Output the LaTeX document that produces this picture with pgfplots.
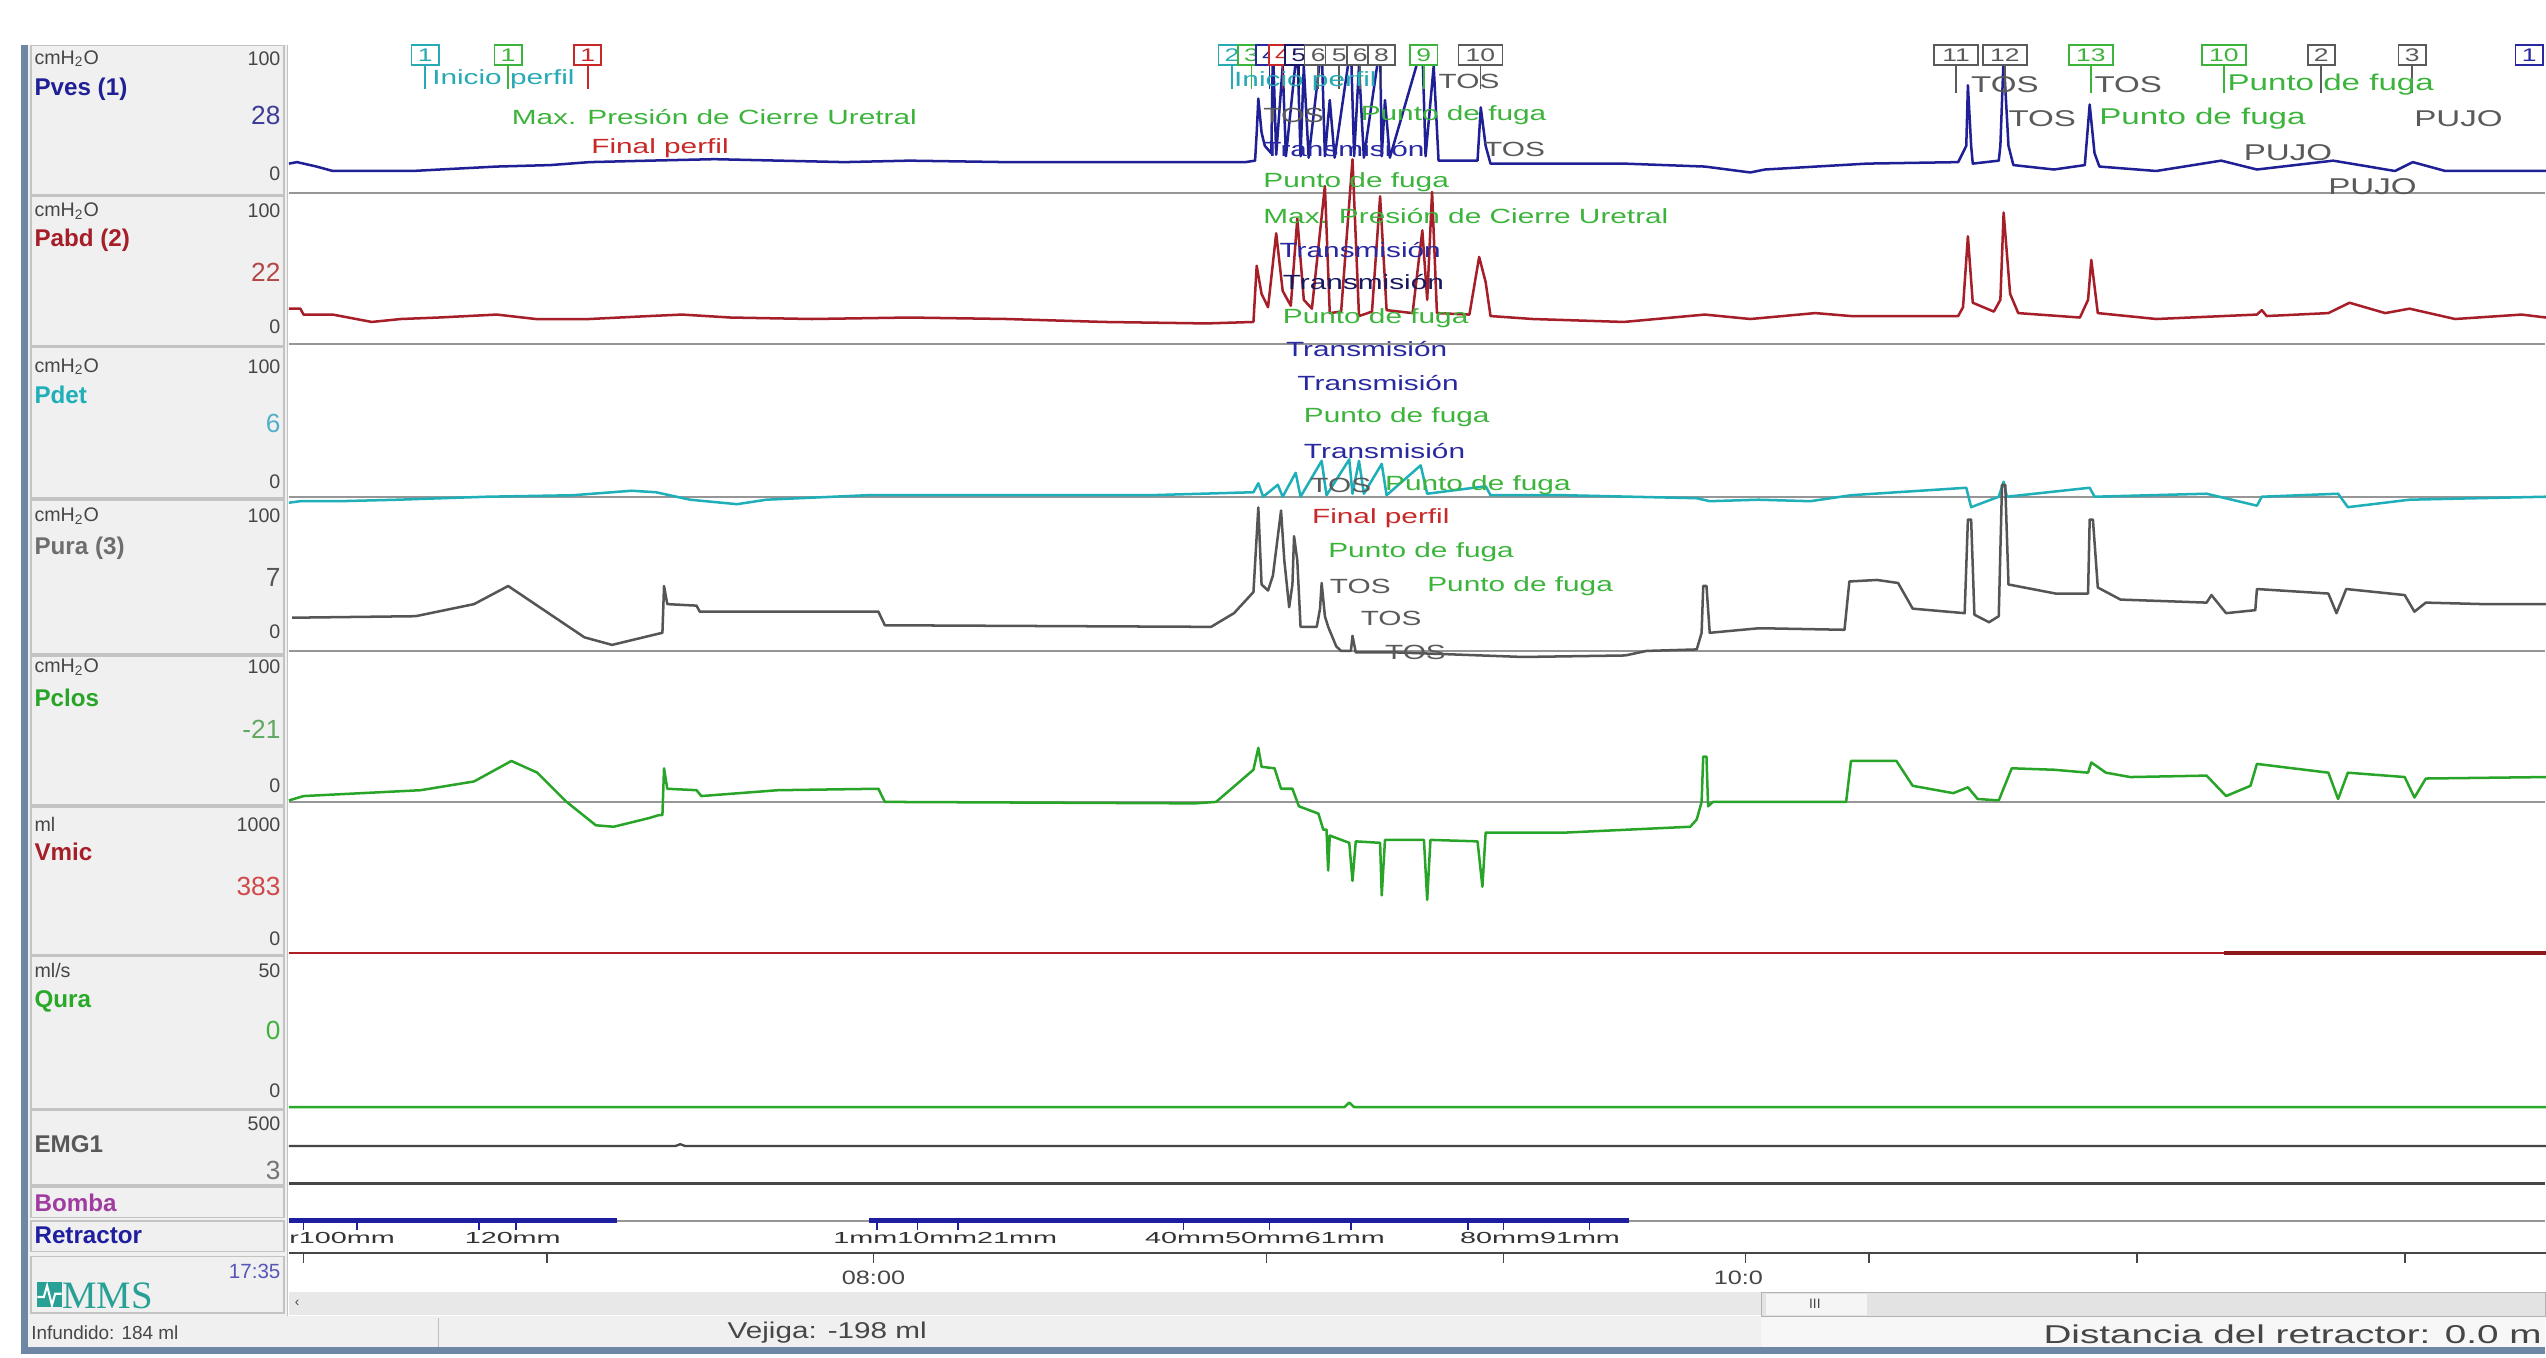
\documentclass[border=0pt]{standalone}
\usepackage{fontspec}
\setmainfont{Liberation Sans}
\newfontfamily\evf[FakeStretch=1.45]{Liberation Sans}
\newfontfamily\retf[FakeStretch=1.8]{Liberation Sans}
\newfontfamily\widef[FakeStretch=1.3]{Liberation Sans}
\newfontfamily\widerf[FakeStretch=1.5]{Liberation Sans}
\newfontfamily\mmsf{Liberation Serif}
\usepackage{pgfplots}
\pgfplotsset{compat=1.18}

\definecolor{cves}{RGB}{32,32,150}
\definecolor{cabd}{RGB}{165,30,40}
\definecolor{cdet}{RGB}{30,175,185}
\definecolor{cura}{RGB}{85,85,85}
\definecolor{cclos}{RGB}{40,165,40}
\definecolor{cvmic}{RGB}{175,30,35}
\definecolor{cqura}{RGB}{40,170,40}
\definecolor{cemg}{RGB}{70,70,70}
\definecolor{cbomba}{RGB}{160,60,160}
\definecolor{cret}{RGB}{30,30,160}
\definecolor{panelbg}{RGB}{240,240,240}
\definecolor{panelln}{RGB}{195,195,195}
\definecolor{zeroln}{RGB}{150,150,150}
\definecolor{txtg}{RGB}{70,70,70}
\definecolor{mms}{RGB}{40,160,150}
\definecolor{frame}{RGB}{110,135,165}
\definecolor{evgreen}{RGB}{60,180,60}
\definecolor{evteal}{RGB}{40,170,180}
\definecolor{evred}{RGB}{200,40,40}
\definecolor{evnavy}{RGB}{40,40,160}
\definecolor{evgray}{RGB}{90,90,90}
\definecolor{vves}{RGB}{60,60,150}
\definecolor{vabd}{RGB}{180,70,70}
\definecolor{vdet}{RGB}{80,175,200}
\definecolor{vclos}{RGB}{96,168,96}
\definecolor{vvmic}{RGB}{208,72,72}

\pgfplotsset{tr/.style={scale only axis, hide axis, width=34.75cm, xmin=178, xmax=1568,
  clip=false, anchor=south west, ymin=0}}

\tikzset{
  sm/.style={font=\fontsize{8.6}{9}\selectfont, text=txtg, inner sep=0},
  nm/.style={font=\bfseries\fontsize{10.6}{11}\selectfont, inner sep=0},
  vl/.style={font=\fontsize{11.5}{12}\selectfont, inner sep=0},
  mkbox/.style={draw=#1, text=#1, fill=white, line width=0.7pt, inner sep=0pt,
     minimum height=0.31cm, minimum width=0.42cm, font=\evf\fontsize{8}{8}\selectfont},
  mkbox2/.style={mkbox=#1, minimum width=0.68cm},
}
\newcommand\ev[4]{\node[anchor=west, text=#3, font=\evf\fontsize{9}{9}\selectfont, inner sep=0] at (#1,#2) {#4};}
\newcommand\evr[4]{\node[anchor=west, text=#3, font=\evf\fontsize{10}{10}\selectfont, inner sep=0] at (#1,#2) {#4};}
\newcommand\mk[4]{\draw[#2, line width=0.8pt] (#1,40) -- (#1,#4); \node[mkbox=#2] at (#1,34) {#3};}
\newcommand\mkk[4]{\draw[#2, line width=0.8pt] (#1,40) -- (#1,#4); \node[mkbox2=#2] at (#1,34) {#3};}

\begin{document}
\begin{tikzpicture}
\path[use as bounding box, fill=white] (0,0) rectangle (39.2,20.9);
\begin{scope}[x=0.025cm, y=-0.025cm, yshift=20.9cm]
  % frame and left column
  \fill[frame] (13,28) rectangle (17,834);
  \fill[panelbg] (17,28) rectangle (177,811);
  \foreach \t/\b in {28/120,121/213,214/307,308/403,404/496,497/588,589/683,684/730,731/750,752/771,774/809}
    \draw[panelln, line width=0.8pt, fill=panelbg] (19,\t) rectangle (175,\b);
  \draw[panelln, line width=0.6pt] (177,28) -- (177,811);
  % zero lines
  \foreach \y in {119,212,306,401,494}
    \draw[zeroln, line width=1pt] (178,\y) -- (1568,\y);
  \draw[cemg, line width=1pt] (178,729) -- (1568,729);
  \draw[zeroln, line width=0.8pt] (178,752) -- (1568,752);
  % scrollbars and status bar
  \fill[black!9] (178,796) rectangle (1085,810);
  \fill[black!6] (17,811) rectangle (1085,830);
  \fill[black!3] (1085,811) rectangle (1568,830);
  \fill[black!11] (1085,796) rectangle (1568,811);
  \draw[black!30, line width=0.5pt] (1085,796) rectangle (1568,811);
  \fill[black!4] (1088,797) rectangle (1150,810);
  \node[font=\fontsize{6}{6}\selectfont, text=txtg, inner sep=0] at (1118,803) {III};
  \node[font=\fontsize{6}{6}\selectfont, text=txtg, inner sep=0] at (183,803) {‹};
  \draw[black!25, line width=0.5pt] (270,812) -- (270,830);
  \fill[frame] (13,830) rectangle (1568,834);
  \node[anchor=west, font=\fontsize{8.3}{9}\selectfont, text=txtg, inner sep=0] at (19,821) {Infundido: 184 ml};
  \node[anchor=west, font=\widef\fontsize{10}{10}\selectfont, text=txtg, inner sep=0] at (448,821) {Vejiga: -198 ml};
  \node[anchor=east, font=\widerf\fontsize{11.3}{12}\selectfont, text=txtg, inner sep=0] at (1566,822) {Distancia del retractor: 0.0 m};
  % left column labels
  \node[sm, anchor=west] at (21,36) {cmH\textsubscript{2}O};
  \node[sm, anchor=east] at (173,36) {100};
  \node[nm, anchor=west, text=cves] at (21,55) {Pves (1)};
  \node[vl, anchor=east, text=vves] at (173,71) {28};
  \node[sm, anchor=east] at (173,107) {0};
  \node[sm, anchor=west] at (21,130) {cmH\textsubscript{2}O};
  \node[sm, anchor=east] at (173,130) {100};
  \node[nm, anchor=west, text=cabd] at (21,148) {Pabd (2)};
  \node[vl, anchor=east, text=vabd] at (173,168) {22};
  \node[sm, anchor=east] at (173,201) {0};
  \node[sm, anchor=west] at (21,226) {cmH\textsubscript{2}O};
  \node[sm, anchor=east] at (173,226) {100};
  \node[nm, anchor=west, text=cdet] at (21,243) {Pdet};
  \node[vl, anchor=east, text=vdet] at (173,261) {6};
  \node[sm, anchor=east] at (173,297) {0};
  \node[sm, anchor=west] at (21,318) {cmH\textsubscript{2}O};
  \node[sm, anchor=east] at (173,318) {100};
  \node[nm, anchor=west, text=cura!85] at (21,338) {Pura (3)};
  \node[vl, anchor=east, text=cura] at (173,356) {7};
  \node[sm, anchor=east] at (173,389) {0};
  \node[sm, anchor=west] at (21,411) {cmH\textsubscript{2}O};
  \node[sm, anchor=east] at (173,411) {100};
  \node[nm, anchor=west, text=cclos] at (21,430) {Pclos};
  \node[vl, anchor=east, text=vclos] at (173,449) {-21};
  \node[sm, anchor=east] at (173,484) {0};
  \node[sm, anchor=west] at (21,508) {ml};
  \node[sm, anchor=east] at (173,508) {1000};
  \node[nm, anchor=west, text=cabd] at (21,525) {Vmic};
  \node[vl, anchor=east, text=vvmic] at (173,546) {383};
  \node[sm, anchor=east] at (173,578) {0};
  \node[sm, anchor=west] at (21,598) {ml/s};
  \node[sm, anchor=east] at (173,598) {50};
  \node[nm, anchor=west, text=cqura] at (21,617) {Qura};
  \node[vl, anchor=east, text=cqura!90] at (173,635) {0};
  \node[sm, anchor=east] at (173,672) {0};
  \node[sm, anchor=east] at (173,692) {500};
  \node[nm, anchor=west, text=cemg!90] at (21,705) {EMG1};
  \node[vl, anchor=east, text=black!55] at (173,721) {3};
  \node[nm, anchor=west, text=cbomba] at (21,741) {Bomba};
  \node[nm, anchor=west, text=cret] at (21,761) {Retractor};
  \node[font=\fontsize{9}{9}\selectfont, text=cret!75, anchor=east, inner sep=0] at (173,783) {17:35};
  \fill[mms] (23,790) rectangle (38,805);
  \draw[white, line width=0.9pt] (23,799) -- (27,799) -- (29,792) -- (32,804) -- (34,797) -- (38,797);
  \node[anchor=west, font=\mmsf\fontsize{17}{17}\selectfont, text=mms, inner sep=0] at (38,798) {MMS};
  % axis anchors
  \coordinate (aves) at (178,119);
  \coordinate (aabd) at (178,212);
  \coordinate (adet) at (178,306);
  \coordinate (aura) at (178,401);
  \coordinate (aclos) at (178,494);
  \coordinate (avmic) at (178,587);
  \coordinate (aqura) at (178,682);
  \coordinate (aemg) at (178,729);
  \coordinate (aret) at (178,771);
  \coordinate (atime) at (178,772);
\end{scope}

% Pves
\begin{axis}[tr, at={(aves)}, height=2.275cm, ymax=100]
\addplot[cves, line width=1.1pt, line join=round] coordinates {
(178,20)(183,21)(187,20)(195,18)(205,15)(254,15)(271,16)(306,18)(339,19)(363,21)(400,22)(440,23)
(480,22)(520,21)(560,22)(620,21)(680,21)(740,21)(767,21)(773,22)(774,41)(775,64)(777,41)(779,32)
(783,27)(784,100)(786,26)(790,86)(792,25)(799,100)(801,25)(803,86)(806,24)(814,100)(816,25)(819,63)
(822,24)(832,100)(834,25)(837,86)(840,24)(850,100)(851,25)(853,63)(856,24)(876,100)(878,25)(883,86)
(886,22)(910,22)(912,58)(915,32)(918,20)(944,20)(1000,20)(1050,18)(1078,14)(1087,16)(1150,20)(1206,21)
(1211,32)(1212,73)(1214,32)(1215,20)(1231,22)(1232,32)(1234,92)(1237,32)(1240,19)(1265,16)(1284,19)
(1287,60)(1290,27)(1293,18)(1328,15)(1368,22)(1390,16)(1437,22)(1475,15)(1486,21)(1506,15)(1568,15)};
\end{axis}
% Pabd
\begin{axis}[tr, at={(aabd)}, height=2.275cm, ymax=100]
\addplot[cabd, line width=1.1pt, line join=round] coordinates {
(178,24)(185,24)(187,20)(205,20)(229,15)(247,17)(270,18)(306,20)(330,17)(363,17)(400,19)(420,20)
(450,18)(500,17)(560,18)(620,17)(680,15)(743,14)(772,15)(774,53)(777,34)(781,25)(786,75)(790,36)
(795,26)(799,85)(803,30)(808,24)(816,107)(819,21)(826,22)(833,125)(837,19)(845,22)(850,100)(854,23)
(870,21)(876,77)(879,30)(882,103)(885,21)(905,20)(911,59)(915,42)(918,19)(944,17)(1000,15)(1050,20)
(1078,17)(1118,21)(1140,19)(1206,19)(1209,25)(1212,73)(1215,28)(1228,22)(1232,30)(1234,89)(1238,34)
(1243,21)(1281,18)(1286,30)(1288,57)(1292,21)(1328,17)(1390,20)(1393,23)(1396,19)(1434,21)(1447,28)
(1469,21)(1484,24)(1512,17)(1553,20)(1568,18)};
\end{axis}
% Pdet
\begin{axis}[tr, at={(adet)}, height=2.3cm, ymax=100]
\addplot[cdet, line width=1.1pt, line join=round] coordinates {
(178,-4)(185,-3)(209,-3)(245,-2)(300,0)(353,1)(389,4)(404,3)(425,-2)(454,-5)(472,-2)(534,1)(642,1)
(708,1)(772,3)(775,9)(778,0)(787,8)(790,0)(798,16)(801,0)(814,24)(817,1)(831,25)(833,2)(837,24)
(840,2)(851,22)(854,1)(875,21)(879,2)(915,7)(918,1)(964,1)(1045,-1)(1053,-3)(1083,-2)(1115,-3)
(1140,1)(1211,6)(1214,-7)(1231,0)(1234,10)(1236,0)(1287,6)(1290,0)(1359,2)(1390,-6)(1393,0)(1440,2)
(1446,-7)(1484,-2)(1568,0)};
\end{axis}
% Pura
\begin{axis}[tr, at={(aura)}, height=2.325cm, ymax=100]
\addplot[cura, line width=1.1pt, line join=round] coordinates {
(180,22)(256,23)(292,31)(313,43)(342,22)(360,9)(377,4)(404,11)(408,12)(409,43)(411,31)(429,30)
(431,26)(541,26)(545,17)(736,16)(746,16)(760,25)(772,39)(775,95)(777,44)(781,40)(784,50)(789,93)
(791,60)(794,29)(796,44)(797,76)(799,60)(801,16)(811,16)(813,28)(814,45)(816,23)(818,16)(823,3)
(826,0)(832,0)(833,10)(835,-1)(860,-1)(887,-2)(938,-4)(1001,-3)(1014,0)(1045,1)(1048,12)(1049,43)
(1051,43)(1053,12)(1083,15)(1086,15)(1136,14)(1139,46)(1156,47)(1169,45)(1178,28)(1210,25)(1212,87)
(1214,87)(1216,24)(1225,19)(1231,23)(1233,110)(1235,110)(1237,44)(1266,38)(1286,38)(1287,87)
(1289,87)(1292,42)(1306,34)(1359,32)(1362,37)(1371,25)(1389,27)(1390,41)(1434,38)(1439,25)(1445,41)
(1481,37)(1487,26)(1494,32)(1530,31)(1568,31)};
\end{axis}
% Pclos
\begin{axis}[tr, at={(aclos)}, height=2.25cm, ymax=100]
\addplot[cclos, line width=1.1pt, line join=round] coordinates {
(178,1)(187,4)(259,8)(292,14)(315,28)(331,20)(349,0)(367,-16)(378,-17)(400,-11)(406,-9)(408,-9)
(409,23)(411,9)(429,8)(432,4)(479,8)(541,9)(545,0)(736,-1)(749,0)(772,22)(775,37)(777,24)(785,23)
(789,9)(796,9)(800,-3)(812,-8)(815,-19)(817,-19)(818,-47)(819,-23)(831,-28)(833,-54)(835,-27)
(850,-28)(851,-64)(853,-26)(877,-26)(879,-67)(881,-26)(910,-27)(913,-58)(915,-21)(964,-21)(1041,-17)
(1045,-12)(1048,0)(1049,31)(1051,31)(1052,-3)(1055,0)(1083,0)(1090,0)(1137,0)(1140,28)(1168,28)
(1178,11)(1203,6)(1212,10)(1218,2)(1231,1)(1239,23)(1265,22)(1286,20)(1288,27)(1297,20)(1312,17)
(1359,18)(1371,4)(1386,11)(1390,26)(1434,20)(1440,2)(1446,20)(1481,17)(1487,3)(1494,16)(1568,17)};
\end{axis}
% Vmic
\begin{axis}[tr, at={(avmic)}, height=2.25cm, ymax=1000]
\addplot[cvmic, line width=1.1pt] coordinates {(178,0)(1568,0)};
\addplot[cvmic!80!black, line width=1.6pt] coordinates {(1370,0)(1568,0)};
\end{axis}
% Qura
\begin{axis}[tr, at={(aqura)}, height=2.325cm, ymax=50]
\addplot[cqura, line width=1.1pt, line join=round] coordinates {(178,0)(828,0)(831,1.5)(834,0)(1568,0)};
\end{axis}
% EMG1
\begin{axis}[tr, at={(aemg)}, height=1.15cm, ymin=-500, ymax=500]
\addplot[cemg, line width=1pt, line join=round] coordinates {(178,0)(416,0)(419,25)(422,0)(1568,0)};
\end{axis}
% Retractor
\begin{axis}[tr, at={(aret)}, height=0.475cm, ymax=100, unbounded coords=jump]
\addplot[cret, line width=2.4pt] coordinates {(178,100)(380,100)(381,nan)(535,100)(1003,100)};
\foreach \x in {187,220,295,318,540,565,590,729,782,832,904,926,979}{
  \edef\temp{\noexpand\draw[cret, line width=0.7pt] (axis cs:\x,100) -- (axis cs:\x,70);}\temp}
\node[anchor=west, font=\retf\fontsize{7}{7}\selectfont, text=black!80, inner sep=0] at (axis cs:178,45) {r100mm};
\node[anchor=west, font=\retf\fontsize{7}{7}\selectfont, text=black!80, inner sep=0] at (axis cs:286,45) {120mm};
\node[anchor=west, font=\retf\fontsize{7}{7}\selectfont, text=black!80, inner sep=0] at (axis cs:513,45) {1mm10mm21mm};
\node[anchor=west, font=\retf\fontsize{7}{7}\selectfont, text=black!80, inner sep=0] at (axis cs:705,45) {40mm50mm61mm};
\node[anchor=west, font=\retf\fontsize{7}{7}\selectfont, text=black!80, inner sep=0] at (axis cs:899,45) {80mm91mm};
\end{axis}
% time axis
\begin{axis}[scale only axis, width=34.75cm, height=0.2cm, xmin=178, xmax=1568, ymin=0, ymax=1,
  at={(atime)}, anchor=south west, axis x line*=bottom, hide y axis,
  x axis line style={-, line width=1pt, color=cemg},
  xtick={538,1075}, xticklabels={08:00,10:00},
  extra x ticks={187,337,780,926,1151,1316,1481}, extra x tick labels={},
  tick align=outside, major tick length=0.15cm,
  tick style={cemg, line width=0.8pt},
  xticklabel style={font=\widef\fontsize{8.5}{8.5}\selectfont, text=txtg}]
\addplot[draw=none] coordinates {(178,0)};
\end{axis}

\begin{scope}[x=0.025cm, y=-0.025cm, yshift=20.9cm]
  \fill[white] (1086,776) rectangle (1100,795);
  % markers left
  \mk{262}{evteal}{1}{55}
  \mk{313}{evgreen}{1}{55}
  \mk{362}{evred}{1}{55}
  \ev{266}{49}{evteal}{Inicio perfil}
  \ev{315}{72}{evgreen}{Max. Presión de Cierre Uretral}
  \ev{364}{91}{evred}{Final perfil}
  % markers middle
  \mk{759}{evteal}{2}{55}
  \mk{771}{evgreen}{3}{55}
  \mk{782}{evnavy}{4}{55}
  \mk{790}{evred}{4}{55}
  \mk{800}{evnavy!60!black}{5}{55}
  \mk{812}{evgray}{6}{55}
  \mk{825}{evgray}{5}{55}
  \mk{838}{evgray}{6}{55}
  \mk{851}{evgray}{8}{55}
  \mk{877}{evgreen}{9}{55}
  \mkk{912}{evgray}{10}{55}
  \ev{760}{50}{evteal}{Inicio perfil}
  \ev{886}{50}{evgray}{TOS}
  \ev{778}{71}{evgray}{TOS}
  \ev{838}{71}{evgreen}{Punto de fuga}
  \ev{778}{92}{evnavy}{Transmisión}
  \ev{914}{92}{evgray}{TOS}
  \ev{778}{112}{evgreen}{Punto de fuga}
  \ev{778}{133}{evgreen}{Max. Presión de Cierre Uretral}
  \ev{788}{154}{evnavy}{Transmisión}
  \ev{790}{174}{evnavy!60!black}{Transmisión}
  \ev{790}{196}{evgreen}{Punto de fuga}
  \ev{792}{215}{evnavy}{Transmisión}
  \ev{799}{236}{evnavy}{Transmisión}
  \ev{803}{257}{evgreen}{Punto de fuga}
  \ev{803}{278}{evnavy}{Transmisión}
  \ev{807}{299}{evgray}{TOS}
  \ev{853}{299}{evgreen}{Punto de fuga}
  \ev{808}{319}{evred}{Final perfil}
  \ev{818}{340}{evgreen}{Punto de fuga}
  \ev{819}{361}{evgray}{TOS}
  \ev{879}{361}{evgreen}{Punto de fuga}
  \ev{838}{381}{evgray}{TOS}
  \ev{853}{402}{evgray}{TOS}
  % markers right
  \mkk{1205}{evgray}{11}{57}
  \mkk{1235}{evgray}{12}{57}
  \mkk{1288}{evgreen}{13}{57}
  \mkk{1370}{evgreen}{10}{57}
  \mk{1430}{evgray}{2}{57}
  \mk{1486}{evgray}{3}{57}
  \node[mkbox=evnavy, anchor=east] at (1567,34) {1};
  \evr{1214}{52}{evgray}{TOS}
  \evr{1290}{52}{evgray}{TOS}
  \evr{1372}{52}{evgreen}{Punto de fuga}
  \evr{1237}{73}{evgray}{TOS}
  \evr{1293}{73}{evgreen}{Punto de fuga}
  \evr{1487}{73}{evgray}{PUJO}
  \evr{1382}{94}{evgray}{PUJO}
  \evr{1434}{115}{evgray}{PUJO}
\end{scope}
\end{tikzpicture}
\end{document}
